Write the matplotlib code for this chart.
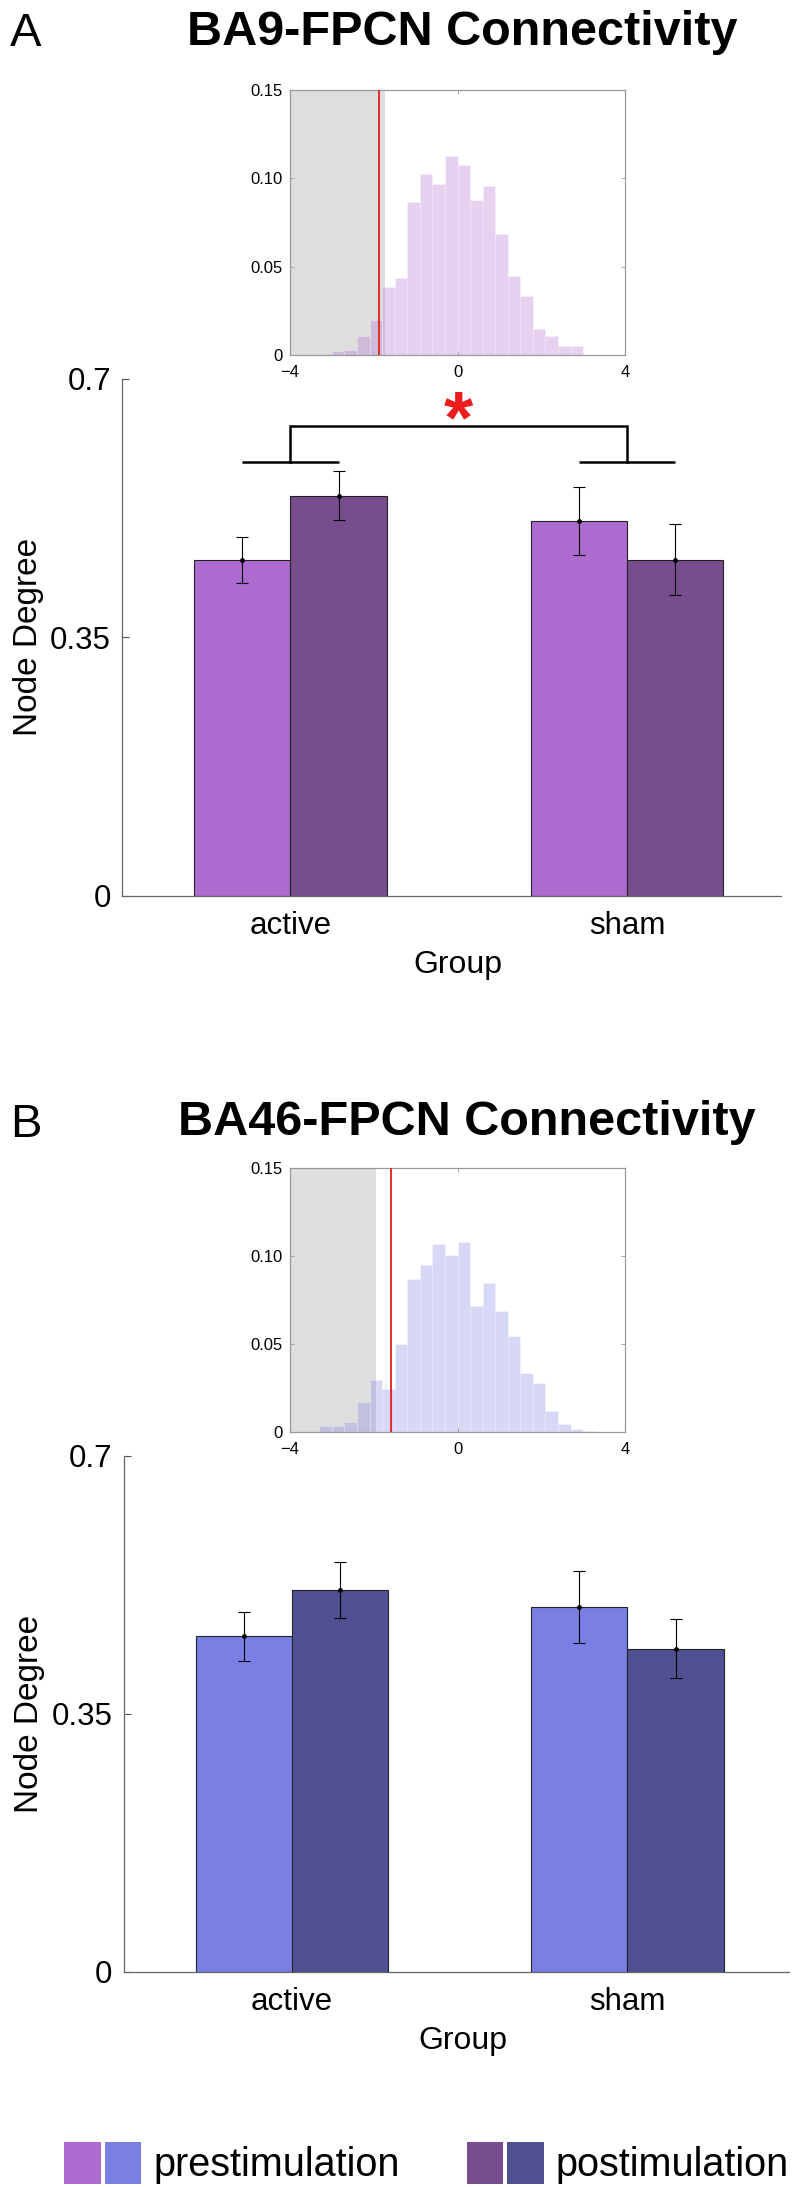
import numpy as np
import matplotlib
matplotlib.use("Agg")
import matplotlib.pyplot as plt
from matplotlib.patches import Patch
from matplotlib.legend_handler import HandlerTuple

plt.rcParams['font.family'] = ['Liberation Sans', 'DejaVu Sans']

# ---------------- data ----------------
groups = ["active", "sham"]
conditions = ["prestimulation", "postimulation"]

ba9_pre = [0.455, 0.508]
ba9_post = [0.542, 0.455]
ba9_pre_err = [0.031, 0.046]
ba9_post_err = [0.033, 0.048]

ba46_pre = [0.455, 0.495]
ba46_post = [0.518, 0.438]
ba46_pre_err = [0.033, 0.049]
ba46_post_err = [0.0385, 0.040]

# permutation null distributions (probability per bin)
hist_edges_A = np.linspace(-3.0, 3.0, 21)
hist_A = [0.0025, 0.003, 0.011, 0.020, 0.0385, 0.0435, 0.0865, 0.1025, 0.097, 0.1125,
          0.1075, 0.0875, 0.0955, 0.0685, 0.0445, 0.0335, 0.015, 0.011, 0.005, 0.005]
crit_A = -1.72
obs_A = -1.87

hist_edges_B = np.linspace(-3.3, 3.3, 23)
hist_B = [0.0038, 0.0038, 0.0057, 0.017, 0.030, 0.0248, 0.050, 0.087, 0.095, 0.107, 0.101,
          0.108, 0.072, 0.085, 0.069, 0.055, 0.0337, 0.0278, 0.012, 0.0047, 0.0019, 0.0006]
crit_B = -1.95
obs_B = -1.58

# ---------------- style ----------------
col_A = ["#AD6BCF", "#774D8E"]
col_B = ["#7A7FE3", "#4F5092"]
W, H = 805, 2187
fig = plt.figure(figsize=(W / 100, H / 100), dpi=100)


def fx(px):
    return px / W


def fy(py):
    return 1 - py / H


def main_panel(rect, pre, post, pre_err, post_err, cols, xmax):
    ax = fig.add_axes(rect)
    x = np.arange(1, len(groups) + 1)
    bw = 0.286
    ax.bar(x - bw / 2, pre, width=bw, color=cols[0], edgecolor="#222222", linewidth=0.8, zorder=2)
    ax.bar(x + bw / 2, post, width=bw, color=cols[1], edgecolor="#222222", linewidth=0.8, zorder=2)
    for xs, vals, errs in [(x - bw / 2, pre, pre_err), (x + bw / 2, post, post_err)]:
        ax.errorbar(xs, vals, yerr=errs, fmt='o', color='black', ecolor='black',
                    elinewidth=0.8, capsize=4, capthick=0.8, markersize=2.5, zorder=3)
    ax.set_xlim(0.5, xmax)
    ax.set_ylim(0, 0.7)
    ax.set_yticks([0, 0.35, 0.7])
    ax.set_yticklabels(["0", "0.35", "0.7"])
    ax.set_xticks(x)
    ax.set_xticklabels(groups)
    ax.tick_params(axis='both', direction='in', length=5, width=0.8, colors='#555555',
                   labelsize=22.5, labelcolor='black')
    ax.tick_params(axis='y', pad=8)
    ax.tick_params(axis='x', pad=11, length=0)
    for s in ['top', 'right']:
        ax.spines[s].set_visible(False)
    for s in ['left', 'bottom']:
        ax.spines[s].set_color('#666666')
        ax.spines[s].set_linewidth(0.9)
    ax.set_ylabel("Node Degree", fontsize=24, va='center')
    ax.yaxis.set_label_coords(-0.142, 0.5)
    ax.set_xlabel("Group", fontsize=23, va='center')
    ax.xaxis.set_label_coords(0.51, -0.1335)
    ax.set_facecolor('none')
    return ax


def inset(rect, edges, heights, crit, obs, col):
    ax = fig.add_axes(rect)
    edges = np.asarray(edges)
    ax.axvspan(-4, crit, color='#DEDEDE', zorder=0, linewidth=0)
    ax.bar(edges[:-1], heights, width=np.diff(edges), align='edge', color=col, alpha=0.3,
           edgecolor='white', linewidth=0.6, zorder=1)
    ax.axvline(obs, color='#E0201E', linewidth=1.3, zorder=3)
    ax.set_xlim(-4, 4)
    ax.set_ylim(0, 0.15)
    ax.set_xticks([-4, 0, 4])
    ax.set_xticklabels(["\u22124", "0", "4"])
    ax.set_yticks([0, 0.05, 0.10, 0.15])
    ax.set_yticklabels(["0", "0.05", "0.10", "0.15"])
    ax.tick_params(direction='in', length=3, width=0.6, colors='#999999',
                   labelsize=12, labelcolor='black', top=True, right=True)
    ax.tick_params(axis='x', pad=7)
    ax.tick_params(axis='y', pad=5)
    for s in ax.spines.values():
        s.set_color('#999999')
        s.set_linewidth(0.9)
    return ax


# ---------------- panel A ----------------
axA = main_panel([fx(122), fy(895.7), fx(781 - 122), (895.7 - 379) / H],
                 ba9_pre, ba9_post, ba9_pre_err, ba9_post_err, col_A, 2.457)
bw = 0.286
# significance bracket
yb, yt = 0.5875, 0.636
axA.plot([1 - bw / 2, 1 + bw / 2], [yb, yb], color='black', lw=1.8, solid_capstyle='butt')
axA.plot([2 - bw / 2, 2 + bw / 2], [yb, yb], color='black', lw=1.8, solid_capstyle='butt')
axA.plot([1, 1, 2, 2], [yb, yt, yt, yb], color='black', lw=1.8, solid_joinstyle='miter')
axA.text(1.5, 0.614, "*", color='#EE1C1C', fontsize=54, fontweight='bold',
         ha='center', va='baseline')

inset([fx(290), fy(355), fx(335), 265 / H], hist_edges_A, hist_A, crit_A, obs_A, col_A[0])

fig.text(fx(10), fy(46), "A", fontsize=34, ha='left', va='baseline')
fig.text(fx(462), fy(45), "BA9-FPCN Connectivity", fontsize=35, fontweight='bold',
         ha='center', va='baseline')

# ---------------- panel B ----------------
axB = main_panel([fx(123.7), fy(1971.7), fx(788.7 - 123.7), (1971.7 - 1455.9) / H],
                 ba46_pre, ba46_post, ba46_pre_err, ba46_post_err, col_B, 2.48)
inset([fx(290), fy(1432.3), fx(335), 264 / H], hist_edges_B, hist_B, crit_B, obs_B, col_B[0])

fig.text(fx(10), fy(1137), "B", fontsize=34, ha='left', va='baseline')
fig.text(fx(467), fy(1135), "BA46-FPCN Connectivity", fontsize=35, fontweight='bold',
         ha='center', va='baseline')

# ---------------- legend ----------------
h_pre = (Patch(facecolor=col_A[0]), Patch(facecolor=col_B[0]))
h_post = (Patch(facecolor=col_A[1]), Patch(facecolor=col_B[1]))
fig.legend(handles=[h_pre, h_post], labels=conditions,
           handler_map={tuple: HandlerTuple(ndivide=None, pad=0.1)},
           ncol=2, frameon=False, loc='lower left',
           bbox_to_anchor=(fx(64), fy(2184)), borderpad=0, borderaxespad=0,
           fontsize=28.5, handlelength=1.95, handleheight=1.25,
           handletextpad=0.3, columnspacing=1.7)

fig.savefig("out.png", dpi=100)
